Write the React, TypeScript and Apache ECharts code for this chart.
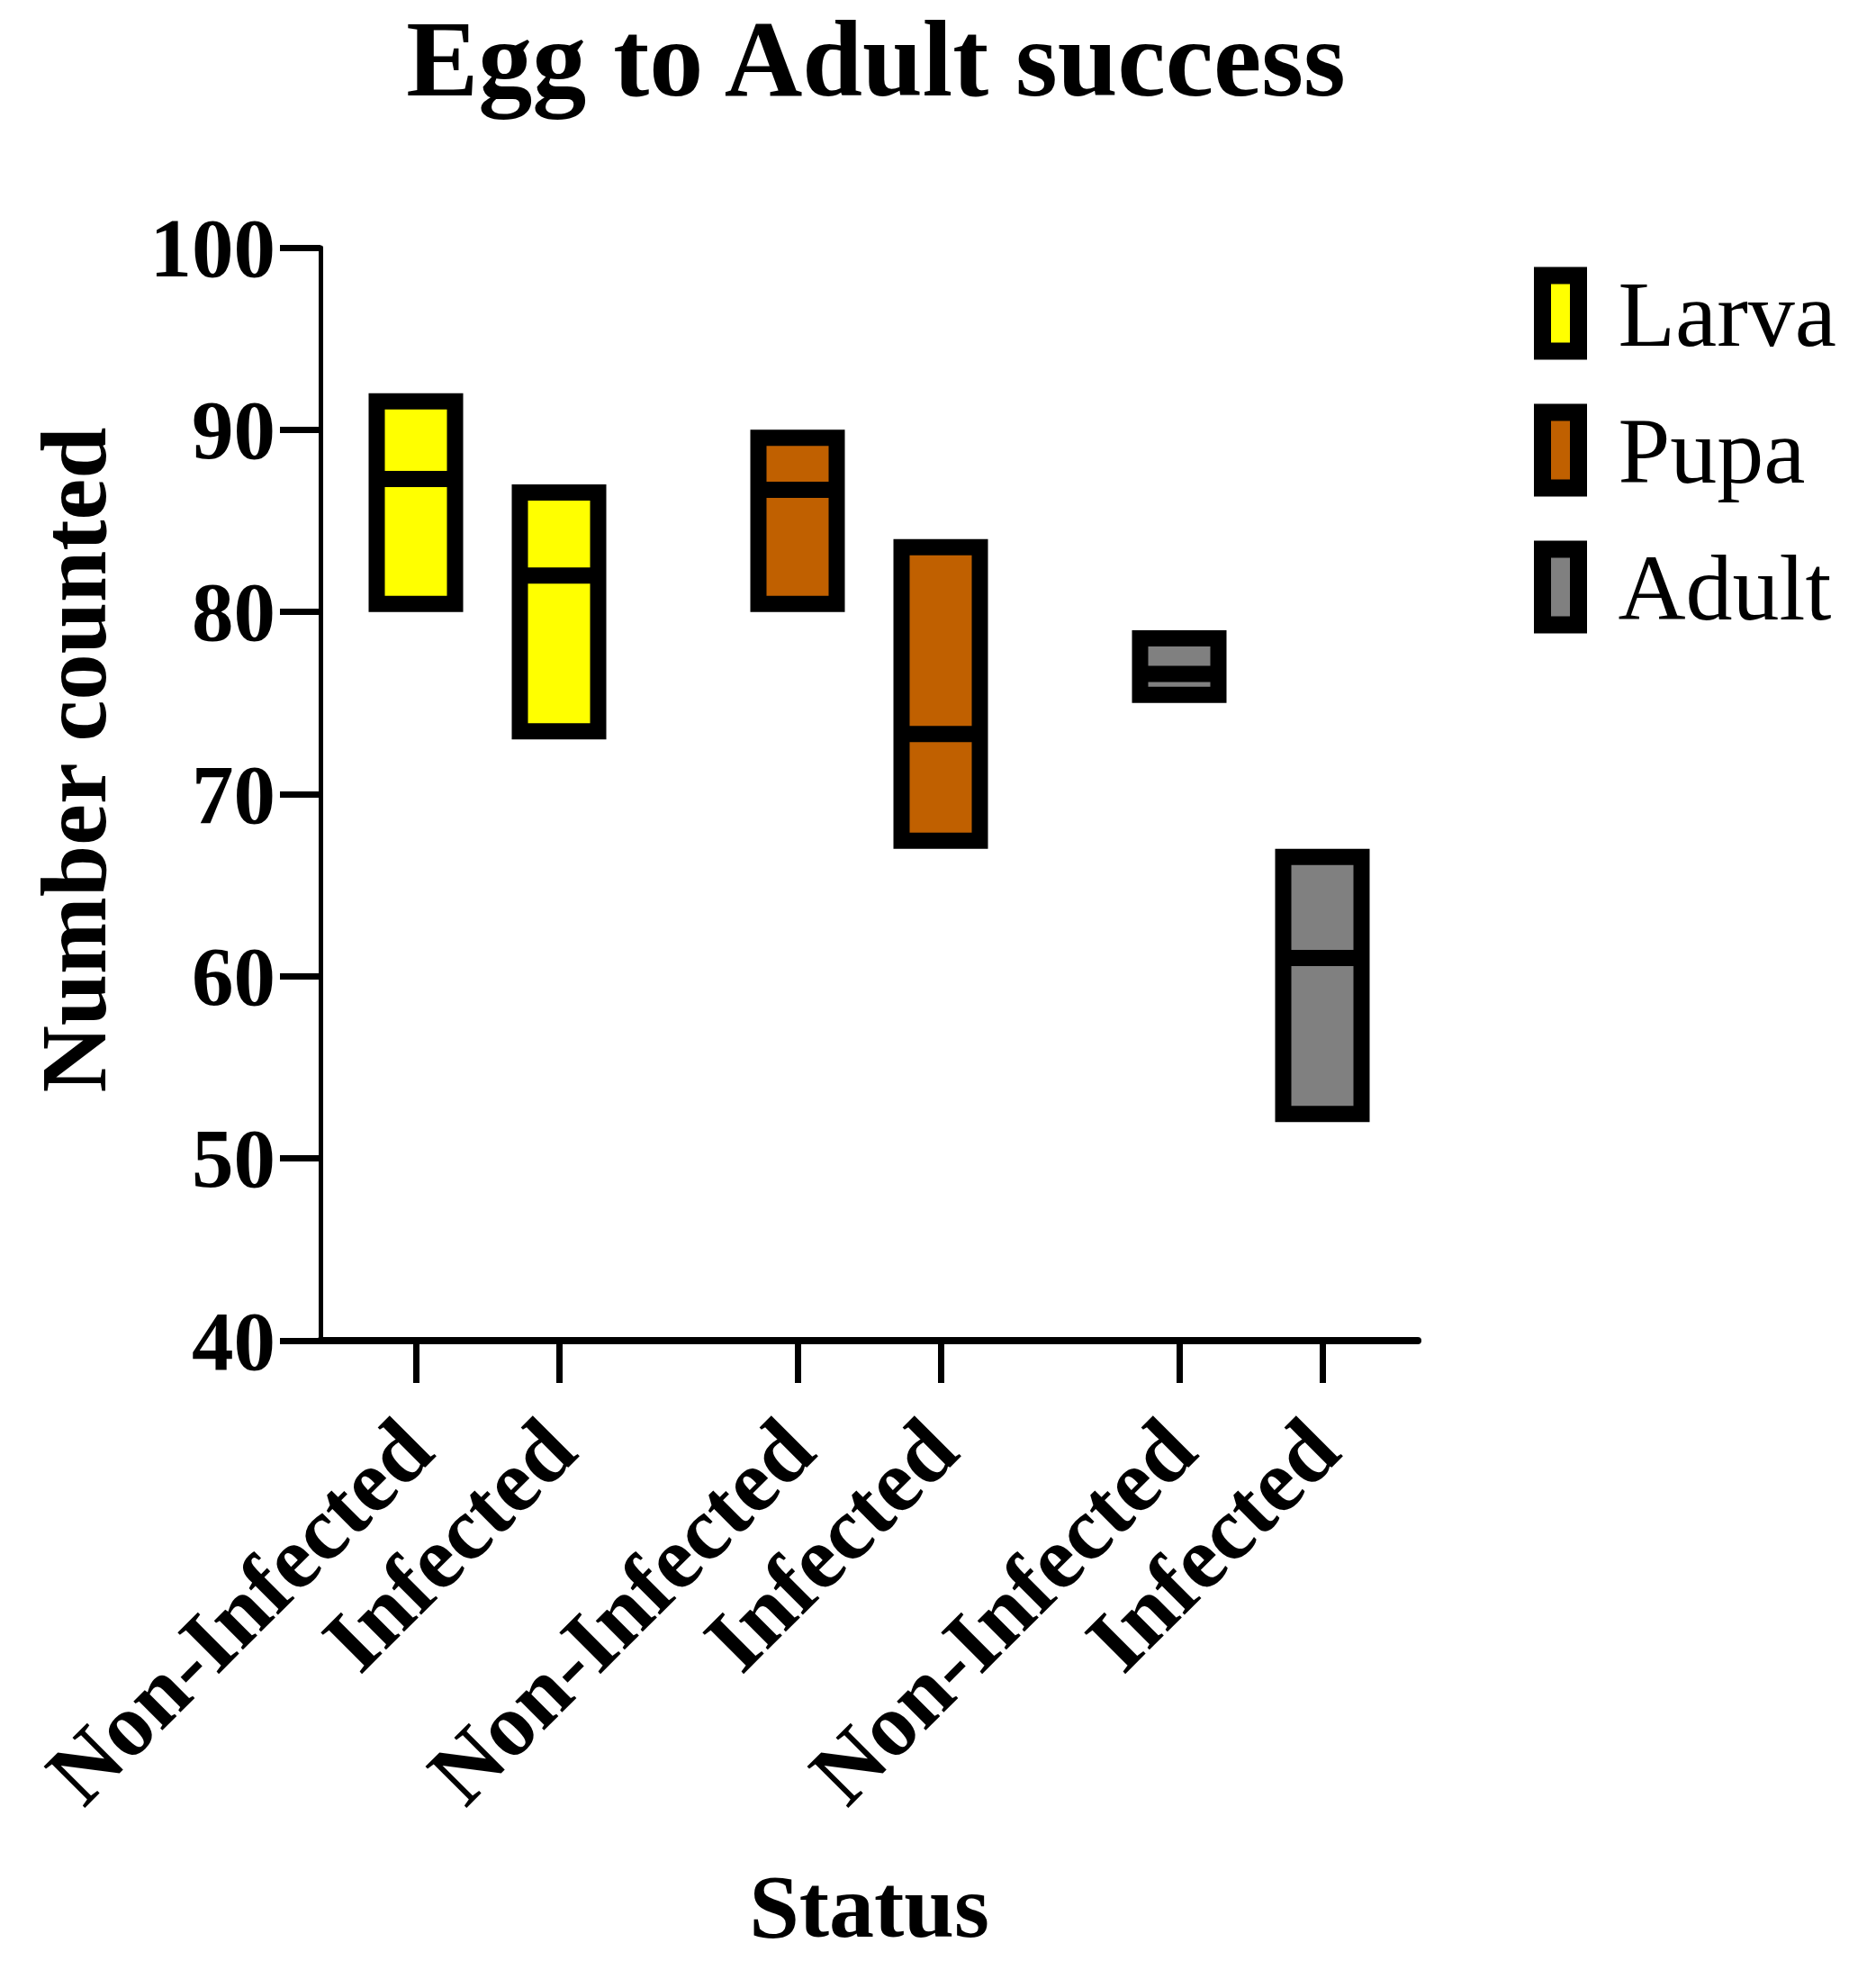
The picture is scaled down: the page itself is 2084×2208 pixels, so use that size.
import React, { useEffect, useRef } from 'react';
import * as echarts from 'echarts';

// stages and statuses
const stages = ['Larva', 'Pupa', 'Adult'];
const statuses = ['Non-Infected', 'Infected'];
const stageColors = ['#FFFF00', '#C06000', '#808080'];

// floating bars: min, max and line at mean (per stage: Non-Infected, Infected)
const minValues = [
  [80, 73],
  [80, 67],
  [75, 52],
];
const maxValues = [
  [92, 87],
  [90, 84],
  [79, 67],
];
const meanValues = [
  [87.3, 82.0],
  [86.7, 73.3],
  [76.6, 61.0],
];

const yTicks = [40, 50, 60, 70, 80, 90, 100];

// category slots on the x axis (gap between stage groups)
const SLOT_COUNT = 24;
const slotOf = (g: number, s: number) => 2 + g * 8 + s * 3;

const FONT = '"Liberation Serif", "Times New Roman", serif';
const BOX_W = 105;
const BORDER = 18;

const App: React.FC = () => {
  const chartRef = useRef<HTMLDivElement | null>(null);

  useEffect(() => {
    if (!chartRef.current) return;
    const chart = echarts.init(chartRef.current, undefined, { renderer: 'svg' });

    const slots: string[] = Array.from({ length: SLOT_COUNT }, () => '');
    stages.forEach((_, g) =>
      statuses.forEach((st, s) => {
        slots[slotOf(g, s)] = st;
      })
    );
    const isLabeled = (i: number) => slots[i] !== '';

    const series = stages.map((stage, g) => ({
      name: stage,
      type: 'custom',
      itemStyle: { color: stageColors[g], borderColor: '#000', borderWidth: BORDER },
      data: statuses.map((_, s) => [slotOf(g, s), minValues[g][s], maxValues[g][s], meanValues[g][s]]),
      renderItem: (params: any, api: any) => {
        const x = api.value(0);
        const top = api.coord([x, api.value(2)]);
        const bot = api.coord([x, api.value(1)]);
        const mid = api.coord([x, api.value(3)]);
        const half = BOX_W / 2;
        return {
          type: 'group',
          children: [
            {
              type: 'rect',
              shape: {
                x: top[0] - half + BORDER / 2,
                y: top[1] + BORDER / 2,
                width: BOX_W - BORDER,
                height: bot[1] - top[1] - BORDER,
              },
              style: { fill: stageColors[g], stroke: '#000', lineWidth: BORDER },
            },
            {
              // line at mean, as thick as the outline
              type: 'rect',
              shape: {
                x: top[0] - half + BORDER / 2,
                y: mid[1] - BORDER / 2,
                width: BOX_W - BORDER,
                height: BORDER,
              },
              style: { fill: '#000' },
            },
          ],
        };
      },
    }));

    const option = {
      animation: false,
      backgroundColor: '#fff',
      title: {
        text: 'Egg to Adult success',
        left: 968,
        textAlign: 'center',
        top: 0,
        textStyle: { fontFamily: FONT, fontWeight: 'bold', fontSize: 120, color: '#000' },
      },
      legend: {
        orient: 'vertical',
        left: 1699,
        top: 291,
        itemWidth: 40,
        itemHeight: 84,
        itemGap: 48,
        selectedMode: false,
        textStyle: {
          fontFamily: FONT,
          fontSize: 104,
          color: '#000',
          padding: [0, 0, 0, 39],
        },
        data: stages.map((stage, g) => ({
          name: stage,
          icon: 'rect',
          itemStyle: { color: stageColors[g], borderColor: '#000', borderWidth: 19 },
        })),
      },
      grid: {
        left: 356,
        top: 275,
        width: 1219,
        height: 1214,
        outerBoundsMode: 'none',
      },
      xAxis: {
        type: 'category',
        data: slots,
        boundaryGap: false,
        name: 'Status',
        nameLocation: 'middle',
        nameGap: 578,
        nameTextStyle: { fontFamily: FONT, fontWeight: 'bold', fontSize: 100, color: '#000' },
        axisLine: { lineStyle: { color: '#000', width: 8 } },
        axisTick: {
          interval: (i: number) => isLabeled(i),
          length: 47,
          lineStyle: { color: '#000', width: 7 },
        },
        axisLabel: {
          interval: (i: number) => isLabeled(i),
          rotate: 45,
          margin: 104,
          fontFamily: FONT,
          fontWeight: 'bold',
          fontSize: 99,
          color: '#000',
        },
        splitLine: { show: false },
      },
      yAxis: {
        type: 'value',
        min: yTicks[0],
        max: yTicks[yTicks.length - 1],
        interval: 10,
        name: 'Number counted',
        nameLocation: 'middle',
        nameGap: 223,
        nameTextStyle: {
          fontFamily: FONT,
          fontWeight: 'bold',
          fontSize: 103,
          color: '#000',
          padding: [0, 0, 0, 76],
        },
        axisLine: { show: true, lineStyle: { color: '#000', width: 5 } },
        axisTick: { show: true, length: 45, lineStyle: { color: '#000', width: 7 } },
        axisLabel: {
          margin: 50,
          fontFamily: FONT,
          fontWeight: 'bold',
          fontSize: 93,
          color: '#000',
        },
        splitLine: { show: false },
      },
      series,
    };

    chart.setOption(option as any);
    return () => {
      chart.dispose();
    };
  }, []);

  return (
    <div
      ref={chartRef}
      style={{ position: 'absolute', left: 0, top: 0, width: '2084px', height: '2208px' }}
    />
  );
};

export default App;
